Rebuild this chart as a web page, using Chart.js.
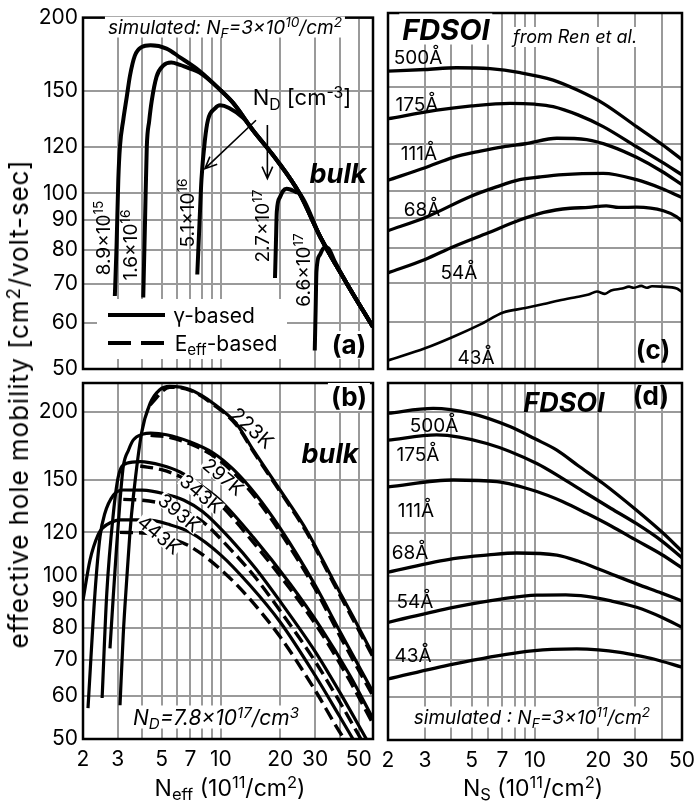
<!DOCTYPE html>
<html>
<head>
<meta charset="utf-8">
<script src="https://cdn.jsdelivr.net/npm/chart.js@4"></script>
<style>
  body { margin: 0; width: 694px; height: 805px; overflow: hidden; background: #fff; position: relative;
         font-family: Inter, 'Liberation Sans', sans-serif; }
  canvas { position: absolute; left: 0; top: 0; }
  .t { position: absolute; white-space: nowrap; line-height: 1; color: #000; }
  .w { background: #fff; padding: 1px 3px; }
  .k { background: #fff; padding: 0 1px; line-height: 0.8; }
  .i { font-style: italic; }
  .b { font-weight: bold; }
  .bi { font-weight: bold; font-style: italic; }
  .ytitle { letter-spacing: 0.9px; }
  sup { font-size: .72em; vertical-align: .45em; line-height: 0; }
  sub { font-size: .72em; vertical-align: -.3em; line-height: 0; }
  #legend { position: absolute; left: 97px; top: 299px; width: 190px; height: 60px; background: #fff; }
</style>
</head>
<body>
<canvas id="ca" width="720" height="805"></canvas>
<canvas id="cb" width="720" height="805"></canvas>
<canvas id="cc" width="720" height="805"></canvas>
<canvas id="cd" width="720" height="805"></canvas>
<div id="legend">
  <svg width="190" height="60" style="position:absolute;left:0;top:0">
    <line x1="11" y1="16" x2="68" y2="16" stroke="#000" stroke-width="4"/>
    <line x1="11" y1="44" x2="68" y2="44" stroke="#000" stroke-width="4" stroke-dasharray="23,10"/>
  </svg>
</div>
<script>
// axes
const xGrid = [2, 3, 4, 5, 6, 7, 8, 9, 10, 20, 30, 40, 50];
const xTickLabels = [2, 3, 5, 7, 10, 20, 30, 50];
const yGrid = [50, 60, 70, 80, 90, 100, 120, 150, 200];

// (a) bulk, N_D series (gamma-based)
const nd89x = [2.9, 2.96, 3.02, 3.08, 3.2, 3.33, 3.46, 3.66, 3.96, 4.4, 5.3, 6.2, 7.8, 10, 11.5, 14.6, 19.2, 25, 32, 43, 59];
const nd89y = [66.7, 81.6, 105.6, 120.5, 133.6, 146, 159, 172, 178, 179.3, 177, 171, 162, 150, 143, 128, 114, 100, 84, 70.5, 59];
const nd16x = [4.04, 4.12, 4.21, 4.33, 4.46, 4.72, 5.1, 5.6, 6.2, 7, 7.8, 10, 11.5, 14.6, 19.2, 25, 32, 43, 59];
const nd16y = [66.3, 88, 120, 133, 144, 158.5, 165.5, 167.5, 166, 163.5, 161, 150, 143, 128, 114, 100, 84, 70.5, 59];
const nd51x = [7.59, 7.8, 7.97, 8.3, 8.6, 9.34, 9.9, 11, 13, 14.6, 19.2, 25, 32, 43, 59];
const nd51y = [72.6, 90, 105.6, 123.5, 133.6, 139.8, 141.5, 140, 134.5, 128, 114, 100, 84, 70.5, 59];
const nd27x = [18.8, 19.0, 19.2, 19.9, 20.6, 21.5, 22.5, 24, 25, 32, 43, 59];
const nd27y = [71.6, 82, 93, 98.4, 100.8, 101.8, 101.5, 100.5, 100, 84, 70.5, 59];
const nd66x = [29.9, 30.2, 30.5, 31.7, 33.6, 35, 37.7, 43, 59];
const nd66y = [53.8, 63, 73.5, 78.4, 80.8, 80.5, 76.5, 70.5, 59];

// (b) bulk, temperatures; solid = gamma-based, dashed (d) = Eeff-based
const k223x = [3.08, 3.2, 3.33, 3.46, 3.6, 3.96, 4.37, 4.9, 5.5, 7, 9.2, 12, 14.6, 17.1, 21.5, 27.2, 37.1, 46.7, 59];
const k223y = [57.7, 78, 98, 120, 139.7, 182.7, 207, 219.6, 222.7, 219.6, 207, 190, 170, 156, 138, 121, 98, 84, 71.5];
const k223dx = [4.37, 5.5, 7, 9.2, 12, 14.6, 17.1, 21.5, 27.2, 37.1, 46.7, 59];
const k223dy = [206, 222, 219, 206, 189, 169, 155, 137, 120, 97, 83, 70.8];
const k297x = [2.74, 2.85, 2.96, 3.08, 3.2, 3.4, 3.6, 4.04, 4.4, 5.3, 7, 9.15, 11.5, 15, 20, 30, 40, 59];
const k297y = [73.4, 92, 113, 137, 158.6, 170, 177.6, 182, 182.7, 181.5, 176, 168, 157, 141, 122, 96, 79, 61];
const k297dx = [4.4, 5.3, 7, 9.15, 11.5, 15, 20, 30, 40, 59];
const k297dy = [181, 180, 174.5, 166, 155, 139, 120, 94.5, 77.5, 60];
const k343x = [2.5, 2.64, 2.85, 3.02, 3.33, 3.9, 5, 6.2, 8, 10, 14.6, 22.4, 31.8, 45, 59];
const k343y = [59.5, 92.8, 130, 152, 160.8, 162, 159.5, 155, 146, 137, 117.5, 96.5, 80.5, 65.5, 54.5];
const k343dx = [3.9, 5, 6.2, 8, 10, 14.6, 22.4, 31.8, 45, 59];
const k343dy = [159, 156.5, 152, 143, 134.5, 115, 94.5, 79, 64, 53.3];
const k393x = [2.12, 2.3, 2.44, 2.58, 2.85, 3.2, 4, 5.1, 6.5, 8.1, 11.1, 15, 20, 30, 40, 54.6];
const k393y = [57, 92.8, 117.9, 130, 140.5, 143.6, 143.5, 141.5, 137.5, 131, 117, 103, 89.5, 72.5, 61, 50];
const k393dx = [3.2, 4, 5.1, 6.5, 8.1, 11.1, 15, 20, 30, 40, 54.6];
const k393dy = [138, 137.5, 135.5, 131.5, 125.5, 112, 99, 86, 69.5, 58.5, 48];
const k443x = [2.0, 2.17, 2.39, 2.53, 2.75, 3.08, 4.2, 5.5, 7, 10, 14, 20, 30, 40, 46.7];
const k443y = [90, 106.7, 119, 122.5, 125, 126.5, 126.5, 124, 120, 109, 96, 82, 65.5, 55, 50];
const k443dx = [3.08, 4.2, 5.5, 7, 10, 14, 20, 30, 40, 44];
const k443dy = [120, 119.5, 117, 113, 102.5, 90.5, 77, 61.5, 51.5, 49];

// (c) FDSOI, from Ren et al.
const c500x = [2, 3, 4.24, 6.11, 8.5, 12.2, 16, 21.1, 30.4, 40, 50];
const c500y = [159.5, 160.5, 161.6, 161, 158.5, 154, 148, 140.7, 128.5, 120, 113];
const c175x = [2, 3.41, 5, 7.61, 10, 12.2, 16, 21.1, 30.4, 40, 50];
const c175y = [132.5, 137, 139.3, 140.7, 140.2, 138.9, 134.5, 128.5, 118.8, 112, 106.5];
const c111x = [2, 3, 4.09, 5.5, 7.06, 9, 12.7, 17.6, 23, 30.4, 40, 50];
const c111y = [104.3, 109.5, 114, 116.8, 118.8, 120.2, 122.8, 122.1, 119, 114, 108, 102.5];
const c68x = [2, 3.05, 4.9, 6.5, 8.46, 10.5, 13.6, 21.1, 30.4, 40, 50];
const c68y = [85.7, 90.4, 97.8, 101.5, 104.5, 105.6, 106.6, 107.1, 104.5, 101, 97.5];
const c54x = [2, 3, 4.09, 6, 8.46, 11, 14.7, 18, 21.8, 25, 30.4, 40.8, 47, 50];
const c54y = [72.7, 76.6, 80.5, 85, 89.3, 92, 93.5, 93.8, 94.4, 93.8, 93.9, 92.6, 90.5, 89];
const c43x = [2, 3, 4.09, 5.5, 7.06, 9, 11, 13, 15.8, 18, 19.7, 21.5, 23, 26, 28, 29.4, 32, 34, 36, 40, 47.2, 50];
const c43y = [51.7, 54.2, 56.7, 59.5, 62.3, 63.4, 64.4, 65.3, 66.2, 66.8, 67.6, 67.0, 67.9, 68.4, 68.9, 68.6, 69.1, 68.6, 69.0, 68.9, 68.4, 67.5];

// (d) FDSOI, simulated
const d500x = [2, 3.28, 4.9, 7.6, 10, 12.7, 16, 21.1, 30.4, 40, 50];
const d500y = [198.9, 203, 199, 188, 178.5, 170.2, 159.5, 147.8, 132, 120.5, 111];
const d175x = [2, 3.41, 5.9, 10.2, 13.5, 17.6, 23, 30.4, 40, 50];
const d175y = [177.5, 181.5, 175, 160.8, 151, 141.7, 133, 124.7, 116, 108];
const d111x = [2, 4.09, 6.6, 10.2, 13.5, 17.6, 23, 30.4, 40, 50];
const d111y = [145.7, 150, 149, 142.9, 137, 130.3, 123.5, 116.2, 109.5, 103.5];
const d68x = [2, 4.09, 6, 8.2, 12.7, 16, 21.1, 30.4, 40, 50];
const d68y = [101.6, 107.6, 109.3, 110.2, 109.2, 106.5, 102.2, 96.7, 93, 90];
const d54x = [2, 4.09, 7, 10.2, 14, 17.6, 23, 30.4, 40, 50];
const d54y = [82.2, 87.6, 90.8, 92.2, 92.3, 91.7, 90, 87.6, 84, 80.5];
const d43x = [2, 4.09, 8.46, 12, 15.8, 20, 25.4, 30.4, 36.7, 50];
const d43y = [64.7, 68.9, 72.4, 73.3, 73.5, 73.2, 72.4, 71.5, 70.4, 68];

Chart.defaults.font.family = "Inter, 'Liberation Sans', sans-serif";
Chart.defaults.color = '#000';

function pts(xs, ys) { return xs.map((v, i) => ({ x: v, y: ys[i] })); }
function line(xs, ys, w, dash) {
  return { data: pts(xs, ys), borderColor: '#000', borderWidth: w, borderDash: dash || [],
           pointRadius: 0, fill: false, cubicInterpolationMode: 'monotone', borderCapStyle: 'butt' };
}

const frame = {
  id: 'frame',
  afterDatasetsDraw(chart) {
    const { ctx, chartArea: a } = chart;
    ctx.save();
    ctx.strokeStyle = '#000';
    ctx.lineWidth = 2.5;
    ctx.strokeRect(a.left, a.top, a.right - a.left, a.bottom - a.top);
    ctx.restore();
  }
};

const arrows = {
  id: 'arrows',
  afterDatasetsDraw(chart, args, opts) {
    if (!opts.list) return;
    const { ctx, scales: { x, y } } = chart;
    ctx.save();
    ctx.strokeStyle = '#000';
    ctx.lineWidth = 1.6;
    opts.list.forEach(([x0, y0, x1, y1]) => {
      const ax = x.getPixelForValue(x0), ay = y.getPixelForValue(y0);
      const bx = x.getPixelForValue(x1), by = y.getPixelForValue(y1);
      const ang = Math.atan2(by - ay, bx - ax), h = 13;
      ctx.beginPath();
      ctx.moveTo(ax, ay); ctx.lineTo(bx, by);
      ctx.moveTo(bx - h * Math.cos(ang - 0.42), by - h * Math.sin(ang - 0.42));
      ctx.lineTo(bx, by);
      ctx.lineTo(bx - h * Math.cos(ang + 0.42), by - h * Math.sin(ang + 0.42));
      ctx.stroke();
    });
    ctx.restore();
  }
};

function panel(id, area, xmax, ymax, showX, showY, datasets, arrowList) {
  const xH = showX ? 40 : 0, yW = showY ? 83 : 0;
  const grid = { color: '#9a9a9a', lineWidth: 2, drawTicks: false };
  return new Chart(document.getElementById(id), {
    type: 'line',
    data: { datasets },
    plugins: [frame, arrows],
    options: {
      responsive: false, animation: false, devicePixelRatio: 1,
      layout: { padding: { left: area[0] - yW, top: area[1], right: 720 - area[2], bottom: 805 - area[3] - xH } },
      plugins: { legend: { display: false }, tooltip: { enabled: false }, arrows: { list: arrowList } },
      scales: {
        x: {
          type: 'logarithmic', min: 2, max: xmax, grid, border: { display: false },
          afterBuildTicks: s => { s.ticks = xGrid.map(v => ({ value: v })); },
          afterFit: s => { s.height = xH; },
          ticks: { display: showX, autoSkip: false, maxRotation: 0, padding: 8, font: { size: 21 },
                   callback: v => xTickLabels.includes(v) ? String(v) : '' }
        },
        y: {
          type: 'logarithmic', min: 50, max: ymax, grid, border: { display: false },
          afterBuildTicks: s => { s.ticks = yGrid.map(v => ({ value: v })); },
          afterFit: s => { s.width = yW; },
          ticks: { display: showY, autoSkip: false, padding: 5, font: { size: 21 }, callback: v => String(v) }
        }
      }
    }
  });
}

panel('ca', [83, 13, 373, 369], 59, 200, false, true, [
  line(nd89x, nd89y, 4), line(nd16x, nd16y, 4), line(nd51x, nd51y, 4),
  line(nd27x, nd27y, 4), line(nd66x, nd66y, 4)
], [[15.06, 133.4, 8.3, 110.2], [17.2, 130.9, 17.2, 106]]);

panel('cb', [83, 383, 373, 739], 59, 226, true, true, [
  line(k223x, k223y, 3.2), line(k223dx, k223dy, 3.4, [13, 6]),
  line(k297x, k297y, 3.2), line(k297dx, k297dy, 3.4, [13, 6]),
  line(k343x, k343y, 3.2), line(k343dx, k343dy, 3.4, [13, 6]),
  line(k393x, k393y, 3.2), line(k393dx, k393dy, 3.4, [13, 6]),
  line(k443x, k443y, 3.2), line(k443dx, k443dy, 3.4, [13, 6])
]);

panel('cc', [388, 13, 682, 369], 50, 200, false, false, [
  line(c500x, c500y, 3.3), line(c175x, c175y, 3.3), line(c111x, c111y, 3.3),
  line(c68x, c68y, 3.3), line(c54x, c54y, 3.3), line(c43x, c43y, 2.6)
]);

panel('cd', [388, 383, 682, 740], 50, 226, true, false, [
  line(d500x, d500y, 3.3), line(d175x, d175y, 3.3), line(d111x, d111y, 3.3),
  line(d68x, d68y, 3.3), line(d54x, d54y, 3.3), line(d43x, d43y, 3.3)
]);

// text: [html, centre x, centre y, size, classes, rotation]
const notes = [
  ['simulated: N<sub>F</sub>=3×10<sup>10</sup>/cm<sup>2</sup>', 225, 27, 19, 'i w', 0],
  ['N<sub>D</sub> [cm<sup>-3</sup>]', 302, 97, 22, '', 0],
  ['bulk', 338, 173, 27, 'bi', 0],
  ['8.9×10<sup>15</sup>', 103, 238, 19, '', -90],
  ['1.6×10<sup>16</sup>', 130, 245, 19, '', -90],
  ['5.1×10<sup>16</sup>', 187, 213, 19, '', -90],
  ['2.7×10<sup>17</sup>', 262, 226, 19, '', -90],
  ['6.6×10<sup>17</sup>', 303, 270, 19, '', -90],
  ['γ-based', 214, 315, 21, '', 0],
  ['E<sub>eff</sub>-based', 226, 343, 21, '', 0],
  ['(a)', 349, 345, 26, 'b w', 0],
  ['(b)', 349, 397, 26, 'b w', 0],
  ['bulk', 330, 453, 27, 'bi', 0],
  ['223K', 252, 428, 20, '', 42],
  ['297K', 223, 477, 19, 'k', 40],
  ['343K', 201, 494, 19, 'k', 40],
  ['393K', 179, 513, 19, 'k', 40],
  ['443K', 159, 535, 19, 'k', 40],
  ['N<sub>D</sub>=7.8×10<sup>17</sup>/cm<sup>3</sup>', 216, 717, 21, 'i w', 0],
  ['FDSOI', 446, 29, 29, 'bi w', 0],
  ['from Ren et al.', 575, 37, 18, 'i w', 0],
  ['500Å', 418, 57, 19, '', 0],
  ['175Å', 417, 104, 19, '', 0],
  ['111Å', 419, 153, 19, '', 0],
  ['68Å', 422, 209, 19, '', 0],
  ['54Å', 459, 272, 19, '', 0],
  ['43Å', 476, 357, 19, '', 0],
  ['(c)', 653, 350, 26, 'b', 0],
  ['FDSOI', 564, 402, 27, 'bi', 0],
  ['(d)', 651, 396, 26, 'b', 0],
  ['500Å', 434, 425, 19, '', 0],
  ['175Å', 418, 454, 19, '', 0],
  ['111Å', 416, 510, 19, '', 0],
  ['68Å', 410, 552, 19, '', 0],
  ['54Å', 415, 601, 19, '', 0],
  ['43Å', 413, 655, 19, '', 0],
  ['simulated : N<sub>F</sub>=3×10<sup>11</sup>/cm<sup>2</sup>', 532, 717, 19, 'i w', 0],
  ['effective hole mobility [cm<sup>2</sup>/volt-sec]', 19, 404, 26, 'ytitle', -90],
  ['N<sub>eff</sub> (10<sup>11</sup>/cm<sup>2</sup>)', 230, 788, 23, '', 0],
  ['N<sub>S</sub> (10<sup>11</sup>/cm<sup>2</sup>)', 533, 788, 23, '', 0]
];
notes.forEach(([html, cx, cy, size, cls, rot]) => {
  const d = document.createElement('div');
  d.className = 't ' + cls;
  d.innerHTML = html;
  d.style.left = cx + 'px';
  d.style.top = cy + 'px';
  d.style.fontSize = size + 'px';
  d.style.transform = 'translate(-50%, -50%) rotate(' + rot + 'deg)';
  document.body.appendChild(d);
});
</script>
</body>
</html>
